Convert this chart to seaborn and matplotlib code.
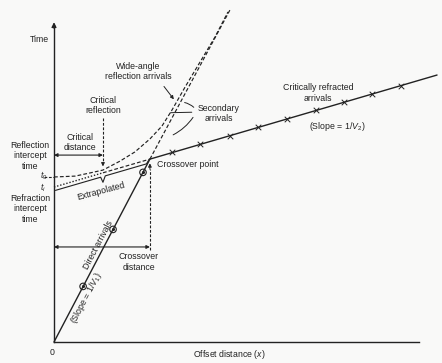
import matplotlib
matplotlib.use("Agg")
import matplotlib.pyplot as plt
import seaborn as sns
import numpy as np

# values (x = offset, t = time, same units)
tick_x = [0.94, 1.94, 2.92, 3.92, 4.93, 5.97, 6.94, 7.95, 8.96, 9.93, 10.94, 11.94]

t0 = 5.73          # reflection intercept time
ti = 5.38          # refraction intercept time
x_crit = 1.70      # critical distance
x_cross = 3.33     # crossover distance
t_cross = 6.35

direct_x = [1.01, 2.05, 3.09]
direct_t = [1.93, 3.91, 5.89]
direct_end = (6.11, 11.53)   # dashed continuation past crossover

refr_end = (13.30, 9.27)
refr_x = [4.10, 5.07, 6.11, 7.08, 8.09, 9.10, 10.07, 11.04, 12.05]
refr_t = [6.58, 6.86, 7.17, 7.45, 7.75, 8.04, 8.33, 8.61, 8.90]

refl_x = [0.0, 0.73, 1.25, 1.70, 2.29, 2.81, 3.33, 3.75, 4.10, 4.55, 5.07, 5.59, 6.04]
refl_t = [5.73, 5.76, 5.87, 5.97, 6.28, 6.60, 7.05, 7.50, 8.06, 8.85, 9.72, 10.59, 11.46]

ink = "#222222"

sns.set_theme(style="white")
plt.rcParams["font.family"] = ["Liberation Sans Narrow", "Liberation Sans", "DejaVu Sans"]
plt.rcParams["mathtext.fontset"] = "custom"
plt.rcParams["mathtext.rm"] = "Liberation Sans"
plt.rcParams["mathtext.it"] = "Liberation Sans:italic"

fig = plt.figure(figsize=(4.42, 3.63), dpi=100, facecolor="#f9f9f8")
ax = fig.add_axes([0, 0, 1, 1])
ax.set_facecolor("#f9f9f8")
ax.set_xlim(-1.875, 13.472)
ax.set_ylim(-0.729, 11.875)

# axes through the origin
for s in ["top", "right"]:
    ax.spines[s].set_visible(False)
ax.spines["left"].set_position(("data", 0))
ax.spines["bottom"].set_position(("data", 0))
ax.spines["left"].set_bounds(0, 11.0)
ax.spines["bottom"].set_bounds(0, 12.67)
for s in ["left", "bottom"]:
    ax.spines[s].set_color(ink)
    ax.spines[s].set_linewidth(1.0)
ax.set_xticks(tick_x)
ax.set_xticklabels([])
ax.tick_params(axis="x", direction="inout", length=5, width=0.8, color=ink)
ax.set_yticks([ti])
ax.set_yticklabels([])
ax.tick_params(axis="y", direction="out", length=3, width=0.8, color=ink)
ax.annotate("", xy=(0, 11.2), xytext=(0, 10.8),
            arrowprops=dict(arrowstyle="-|>", color=ink, lw=0.9, mutation_scale=7))

dash = (3.2, 1.8)

# direct arrivals
sns.lineplot(x=[0, x_cross], y=[0, t_cross], color=ink, lw=1.0, ax=ax)
sns.lineplot(x=[x_cross, direct_end[0]], y=[t_cross, direct_end[1]], color=ink,
             lw=0.85, linestyle=(0, dash), ax=ax)
ax.scatter(direct_x, direct_t, s=22, facecolors="none", edgecolors=ink, linewidths=0.8, zorder=3)
ax.scatter(direct_x, direct_t, s=1.5, color=ink, zorder=4)

# critically refracted arrivals
t_crit = ti + (t_cross - ti) * x_crit / x_cross
sns.lineplot(x=[0, x_crit], y=[ti, t_crit], color=ink, lw=1.0, linestyle=(0, (1, 1.3)), ax=ax)
sns.lineplot(x=[x_crit, x_cross], y=[t_crit, t_cross], color=ink, lw=0.85,
             linestyle=(0, dash), ax=ax)
sns.lineplot(x=[x_cross, refr_end[0]], y=[t_cross, refr_end[1]], color=ink, lw=1.0, ax=ax)
ax.scatter(refr_x, refr_t, marker="x", s=16, color=ink, linewidths=0.7, zorder=3)

# wide-angle reflection hyperbola
sns.lineplot(x=refl_x, y=refl_t, color=ink, lw=0.85, linestyle=(0, dash), sort=False, ax=ax)
ax.plot([-0.36, 0], [t0, t0], color=ink, lw=0.8, linestyle=(0, (2.5, 1.5)))

# brace under the extrapolated line
slope = (t_cross - ti) / x_cross
off = 0.13
bx = [0.05, x_crit - 0.08, x_crit, x_crit + 0.08, x_cross - 0.12, x_cross - 0.05]
by = [ti - off + slope * bx[0], ti - off + slope * bx[1], ti - 0.33 + slope * x_crit,
      ti - off + slope * bx[3], ti - off + slope * bx[4], t_cross - 0.05]
ax.plot(bx, by, color=ink, lw=0.8)

fs = 6.3
tk = dict(color=ink, fontsize=fs, ha="center", va="center", linespacing=1.2)

ax.text(-0.52, 10.49, "Time", **tk)
ax.text(2.92, 9.39, "Wide-angle\nreflection arrivals", **tk)
ax.annotate("", xy=(4.22, 8.35), xytext=(3.76, 8.95),
            arrowprops=dict(arrowstyle="-|>", color=ink, lw=0.7, mutation_scale=5))
ax.text(5.72, 7.93, "Secondary\narrivals", **tk)
ax.annotate("", xy=(4.44, 8.33), xytext=(4.92, 8.08),
            arrowprops=dict(arrowstyle="-", color=ink, lw=0.7, connectionstyle="arc3,rad=0.2"))
ax.annotate("", xy=(3.95, 7.96), xytext=(4.88, 7.98),
            arrowprops=dict(arrowstyle="-", color=ink, lw=0.7))
ax.annotate("", xy=(4.05, 7.15), xytext=(4.88, 7.88),
            arrowprops=dict(arrowstyle="-", color=ink, lw=0.7, connectionstyle="arc3,rad=-0.15"))

ax.text(1.70, 8.21, "Critical\nreflection", **tk)
ax.plot([x_crit, x_crit], [7.78, 6.25], color=ink, lw=0.8, linestyle=(0, (2.5, 1.5)))
ax.annotate("", xy=(x_crit, 6.00), xytext=(x_crit, 6.3),
            arrowprops=dict(arrowstyle="-|>", color=ink, lw=0.7, mutation_scale=5))

ax.text(0.90, 6.93, "Critical\ndistance", **tk)
ax.annotate("", xy=(0, 6.49), xytext=(x_crit, 6.49),
            arrowprops=dict(arrowstyle="<|-|>", color=ink, lw=0.8, mutation_scale=5,
                            shrinkA=0, shrinkB=0))

ax.text(-0.83, 6.46, "Reflection\nintercept\ntime", **tk)
ax.text(-0.83, 4.62, "Refraction\nintercept\ntime", **tk)
ax.text(-0.36, t0 + 0.03, "$t_0$", **tk)
ax.text(-0.40, ti - 0.02, "$t_i$", **tk)

ax.text(x_cross + 0.25, 6.15, "Crossover point", color=ink, fontsize=fs, ha="left", va="center")
ax.plot([x_cross, x_cross], [3.19, 6.0], color=ink, lw=0.8, linestyle=(0, (2.5, 1.5)))
ax.annotate("", xy=(x_cross, t_cross - 0.05), xytext=(x_cross, 5.9),
            arrowprops=dict(arrowstyle="-|>", color=ink, lw=0.7, mutation_scale=5))
ax.annotate("", xy=(0, 3.30), xytext=(x_cross, 3.30),
            arrowprops=dict(arrowstyle="<|-|>", color=ink, lw=0.8, mutation_scale=5,
                            shrinkA=0, shrinkB=0))
ax.text(2.95, 2.78, "Crossover\ndistance", **tk)

ang = np.degrees(np.arctan(t_cross / x_cross))
ax.text(1.55, 3.37, "Direct arrivals", rotation=ang, rotation_mode="anchor", **tk)
ax.text(1.12, 1.53, "(Slope = 1/$V_1$)", rotation=ang, rotation_mode="anchor", **tk)
ax.text(1.63, 5.22, "Extrapolated", rotation=15, rotation_mode="anchor", **tk)

ax.text(9.17, 8.65, "Critically refracted\narrivals", **tk)
ax.text(9.83, 7.50, "(Slope = 1/$V_2$)", **tk)

ax.text(-0.05, -0.36, "0", **tk)
ax.text(6.10, -0.45, "Offset distance ($x$)", **tk)

fig.savefig("out.png", dpi=100, facecolor=fig.get_facecolor())
